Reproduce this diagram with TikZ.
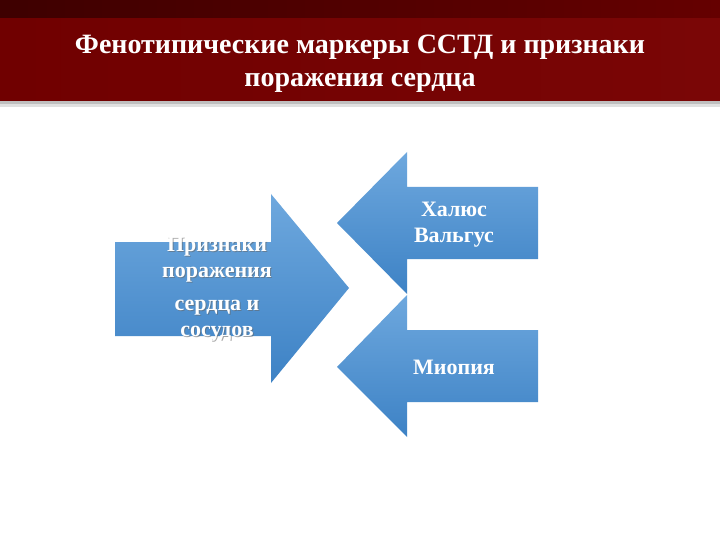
\documentclass[tikz,border=0pt]{standalone}
\usepackage{fontspec}
\setmainfont{Liberation Serif}
\definecolor{hdrdark}{HTML}{3E0000}
\definecolor{hdrmid}{HTML}{650000}
\definecolor{hdrmain}{HTML}{700000}
\definecolor{hdrmain2}{HTML}{7A0606}
\definecolor{arrtop}{HTML}{6EA8DE}
\definecolor{arrbot}{HTML}{3D82C5}
\tikzset{
  arrowshape/.style={top color=arrtop, bottom color=arrbot, draw=none},
  arrowtext/.style={text=white, font=\bfseries\fontsize{22}{26}\selectfont, align=center, inner sep=0pt},
  shadowtext/.style={text=black!60, opacity=0.55, font=\bfseries\fontsize{22}{26}\selectfont, align=center, inner sep=0pt},
  titletext/.style={text=white, font=\bfseries\fontsize{28}{33}\selectfont, align=center, inner sep=0pt}
}
\begin{document}
\begin{tikzpicture}[x=1pt,y=-1pt]
\useasboundingbox (0,0) rectangle (720,540);
\fill[white] (0,0) rectangle (720,540);
% header shadow
\fill[black!25] (0,100) rectangle (720,104);
\fill[black!12] (0,104) rectangle (720,107);
% header
\shade[left color=hdrmain, right color=hdrmain2] (0,18) rectangle (720,101);
\shade[left color=hdrdark, right color=hdrmid] (0,0) rectangle (720,18);
\node[titletext] (title) at (360,64) {Фенотипические маркеры ССТД и признаки\\поражения сердца};
% left arrow
\path[arrowshape] (115,242) -- (271,242) -- (271,194) -- (349,288) -- (271,383) -- (271,336) -- (115,336) -- cycle;
% upper right arrow
\path[arrowshape] (538,187) -- (407,187) -- (407,152) -- (337,223) -- (407,294) -- (407,259) -- (538,259) -- cycle;
% lower right arrow
\path[arrowshape] (538,330) -- (407,330) -- (407,295) -- (337,367) -- (407,437) -- (407,402) -- (538,402) -- cycle;
% texts
\node[shadowtext] at (218,261) {Признаки\\поражения};
\node[shadowtext] at (218,322) {сердца и\\сосудов};
\node[arrowtext] (lefta) at (217,260) {Признаки\\поражения};
\node[arrowtext] (leftb) at (217,321) {сердца и\\сосудов};
\node[arrowtext] (upper) at (454,225) {Халюс\\Вальгус};
\node[arrowtext] (lower) at (454,367) {Миопия};
\end{tikzpicture}
\end{document}
